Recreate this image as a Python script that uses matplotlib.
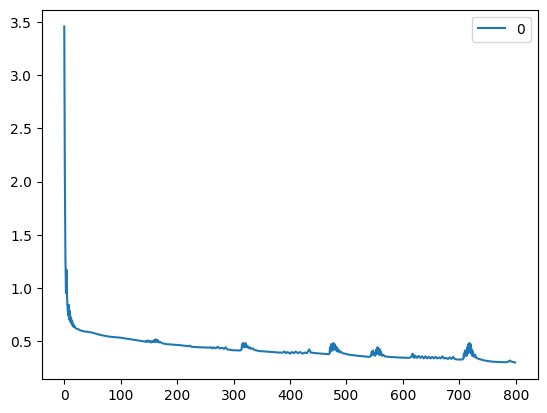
import matplotlib
matplotlib.use("Agg")
import matplotlib.pyplot as plt

steps = [0, 1, 2, 3, 4, 5, 6, 7, 8, 9, 10, 11, 12, 13, 14, 15, 16, 17, 18, 20, 22, 25, 28,
         35, 48, 64, 80, 100, 117, 130, 143,
         145, 146, 148, 150, 152, 154, 156, 158, 160, 161, 162, 163, 164, 165, 166, 168, 170, 173,
         180, 205, 220, 223, 225, 240, 257,
         260, 262, 265, 268, 272, 275, 280, 283, 286, 289, 300, 312,
         314, 315, 316, 317, 318, 319, 320, 321, 322, 323, 324, 325, 327, 329, 331, 334, 337, 345, 382,
         387, 390, 393, 396, 400, 403, 407, 410, 414, 418, 422, 426, 430, 434, 437, 445, 468,
         470, 471, 472, 473, 474, 475, 476, 477, 478, 479, 480, 481, 482, 483, 484, 486, 488, 490, 493, 497,
         505, 520, 540,
         543, 545, 546, 547, 548, 550, 551, 553, 554, 555, 556, 557, 558, 559, 560, 561, 563, 565, 568,
         575, 590, 611,
         615, 617, 618, 619, 620, 622,
         625, 628, 631, 634, 637, 640, 643, 646, 649, 652, 655, 658, 661, 664, 667, 670, 673, 676,
         680, 683, 686, 689, 692, 696, 705,
         707, 708, 709, 710, 711, 712, 713, 714, 715, 716, 717, 718, 719, 720, 721, 722, 723, 724,
         726, 728, 730, 735, 745, 758, 775, 785, 788, 790, 792, 797, 799]

loss = [3.46, 2.10, 1.30, 0.95, 1.17, 0.90, 0.80, 0.74, 0.84, 0.70, 0.78, 0.68, 0.72, 0.66, 0.69, 0.64, 0.66, 0.63, 0.64, 0.62, 0.615, 0.61, 0.60,
        0.59, 0.58, 0.556, 0.54, 0.53, 0.516, 0.505, 0.494,
        0.50, 0.49, 0.505, 0.49, 0.50, 0.485, 0.50, 0.49, 0.51, 0.49, 0.515, 0.495, 0.51, 0.49, 0.505, 0.485, 0.49, 0.48,
        0.47, 0.46, 0.45, 0.455, 0.445, 0.44, 0.437,
        0.44, 0.43, 0.44, 0.43, 0.445, 0.43, 0.435, 0.425, 0.44, 0.42, 0.412, 0.41,
        0.42, 0.47, 0.44, 0.48, 0.45, 0.47, 0.44, 0.48, 0.45, 0.46, 0.44, 0.45, 0.43, 0.44, 0.425, 0.43, 0.415, 0.405, 0.39,
        0.39, 0.40, 0.385, 0.395, 0.38, 0.395, 0.385, 0.40, 0.385, 0.395, 0.38, 0.39, 0.385, 0.42, 0.39, 0.385, 0.375,
        0.38, 0.44, 0.40, 0.47, 0.42, 0.46, 0.41, 0.48, 0.42, 0.47, 0.43, 0.45, 0.41, 0.44, 0.40, 0.42, 0.39, 0.40, 0.385, 0.38,
        0.37, 0.36, 0.35,
        0.355, 0.40, 0.37, 0.41, 0.37, 0.39, 0.36, 0.42, 0.38, 0.44, 0.38, 0.43, 0.37, 0.42, 0.37, 0.40, 0.36, 0.37, 0.355,
        0.35, 0.345, 0.34,
        0.35, 0.38, 0.35, 0.37, 0.34, 0.36,
        0.34, 0.36, 0.34, 0.355, 0.335, 0.355, 0.335, 0.35, 0.335, 0.35, 0.335, 0.35, 0.335, 0.345, 0.335, 0.355, 0.335, 0.34,
        0.33, 0.345, 0.33, 0.35, 0.33, 0.325, 0.325,
        0.33, 0.38, 0.35, 0.41, 0.37, 0.40, 0.36, 0.44, 0.38, 0.47, 0.39, 0.48, 0.40, 0.47, 0.38, 0.42, 0.36, 0.40,
        0.35, 0.37, 0.34, 0.33, 0.315, 0.305, 0.30, 0.30, 0.31, 0.315, 0.305, 0.30, 0.297]

series_label = "0"

fig, ax = plt.subplots(figsize=(6.4, 4.8), dpi=100)
ax.plot(steps, loss, color="#1f77b4", linewidth=1.5, label=series_label)
ax.legend(loc="upper right")
fig.savefig("out.png", dpi=100, bbox_inches="tight")
